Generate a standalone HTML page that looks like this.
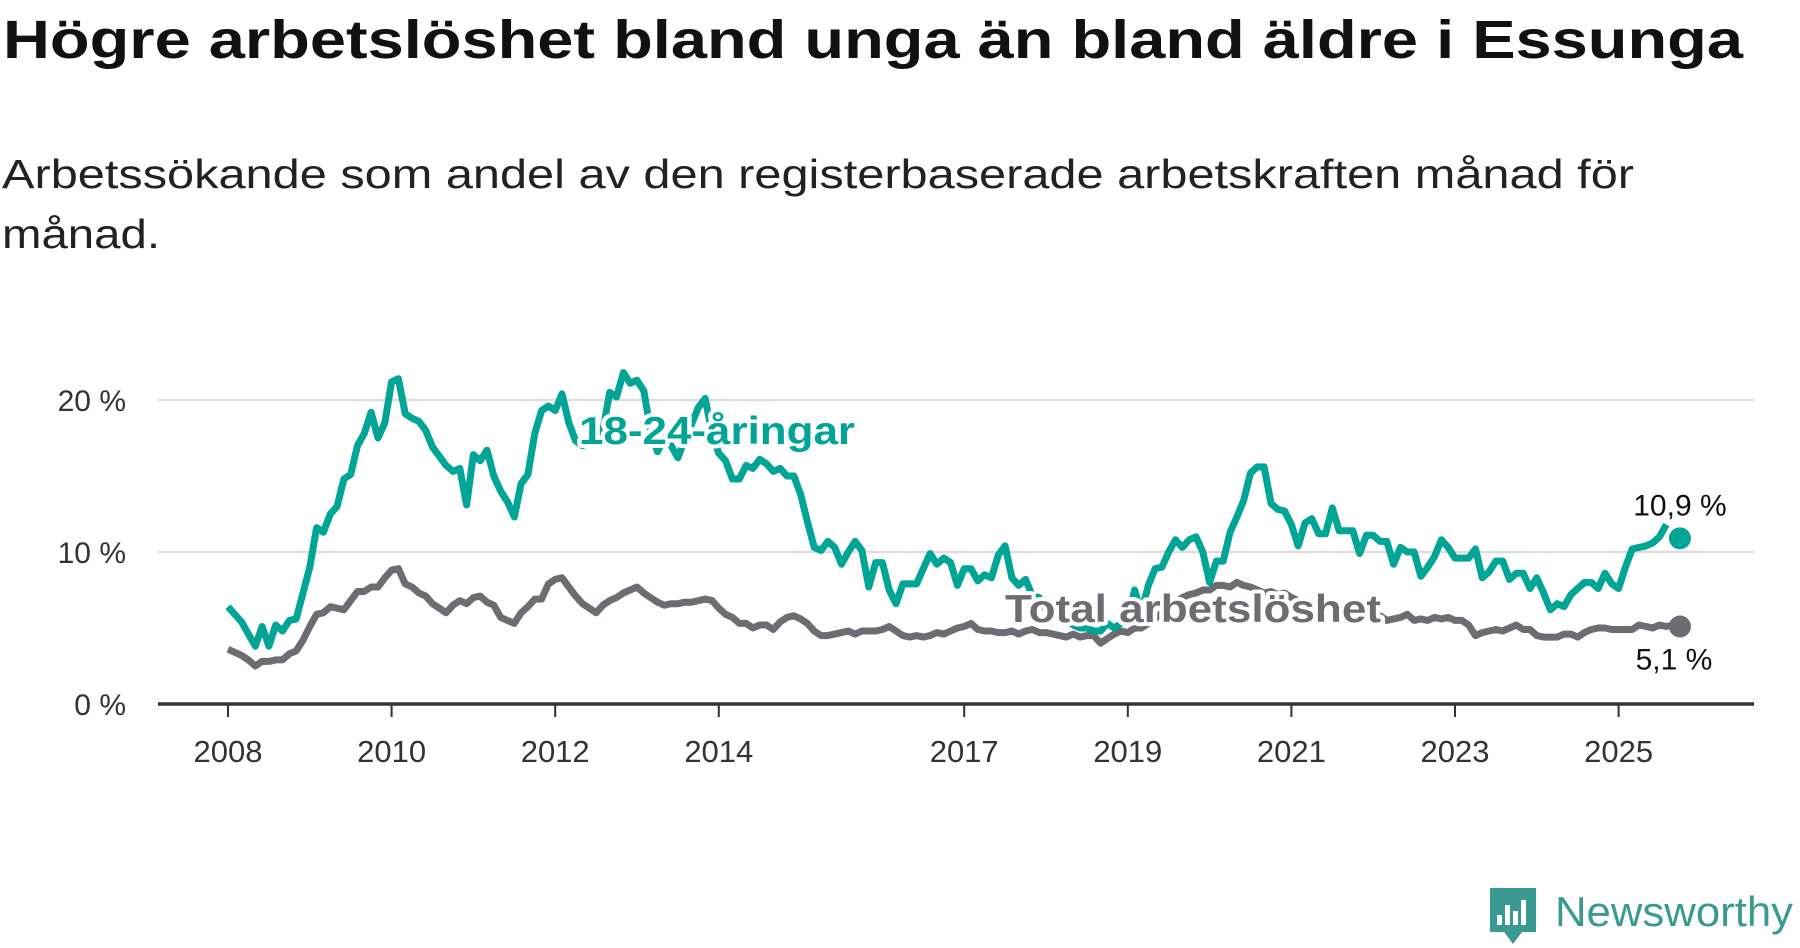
<!DOCTYPE html>
<html><head><meta charset="utf-8"><style>
html,body{margin:0;padding:0;background:#fff;}
svg{display:block;font-family:"Liberation Sans",sans-serif;}
</style></head><body>
<svg id="chart" width="1800" height="948" viewBox="0 0 1800 948" xmlns="http://www.w3.org/2000/svg">
<text x="3" y="58" font-size="54" font-weight="bold" fill="#111" textLength="1740" lengthAdjust="spacingAndGlyphs">Högre arbetslöshet bland unga än bland äldre i Essunga</text>
<text x="2" y="188" font-size="41" fill="#222" textLength="1632" lengthAdjust="spacingAndGlyphs">Arbetssökande som andel av den registerbaserade arbetskraften månad för</text>
<text x="2" y="248" font-size="41" fill="#222" textLength="158" lengthAdjust="spacingAndGlyphs">månad.</text>
<g id="grid"></g><g id="axes"></g><g id="lines"></g><g id="labels"></g>
<g>
<path d="M1490 888 h46 v44 h-14 l-9 12 l-9 -12 h-14 z" fill="#3a9a91"/>
<rect x="1497" y="915" width="5" height="10" fill="#fff"/><rect x="1505" y="905" width="5" height="20" fill="#fff"/><rect x="1513" y="911" width="5" height="14" fill="#fff"/><rect x="1521" y="900" width="5" height="25" fill="#fff"/>
<text x="1555" y="926" font-size="42" fill="#3a9a91" textLength="238" lengthAdjust="spacingAndGlyphs">Newsworthy</text>
</g>
</svg>
<script>
const yTicks=[0,10,20];
const yTickLabels=["0 %","10 %","20 %"];
const xTickYears=[2008,2010,2012,2014,2017,2019,2021,2023,2025];
const startYear=2008;
const youth=[6.4,5.9,5.4,4.6,3.8,5.1,3.8,5.2,4.8,5.5,5.6,7.3,
9.0,11.6,11.3,12.5,13.0,14.8,15.1,17.0,17.8,19.2,17.5,18.5,
21.2,21.4,19.1,18.8,18.6,18.0,16.9,16.3,15.7,15.3,15.5,13.1,
16.4,16.0,16.7,15.0,14.0,13.3,12.3,14.5,15.1,17.8,19.3,19.6,
19.3,20.4,18.5,17.3,17.0,17.2,17.5,18.0,20.5,20.2,21.8,21.1,
21.3,20.6,18.0,16.6,17.5,17.0,16.2,17.4,18.4,19.5,20.1,17.8,
16.5,16.0,14.8,14.8,15.7,15.5,16.1,15.8,15.3,15.5,15.0,15.0,
13.8,12.0,10.3,10.1,10.7,10.3,9.2,10.0,10.7,10.1,7.7,9.3,
9.3,7.5,6.6,7.9,7.9,7.9,8.9,9.9,9.2,9.6,9.3,7.8,
8.9,8.9,8.1,8.5,8.3,9.8,10.4,8.3,7.8,8.2,7.1,7.0,
6.2,6.0,5.8,5.5,5.2,5.0,5.0,4.8,4.8,5.3,5.0,5.3,
5.5,7.5,6.0,7.8,8.9,9.0,10.0,10.8,10.3,10.8,11.0,10.0,
8.0,9.4,9.4,11.3,12.3,13.4,15.2,15.6,15.6,13.2,12.8,12.7,
11.8,10.4,11.9,12.2,11.2,11.2,12.9,11.4,11.4,11.4,9.9,11.1,
11.1,10.7,10.7,9.2,10.3,10.0,10.0,8.4,9.0,9.7,10.8,10.3,
9.6,9.6,9.6,10.2,8.3,8.7,9.4,9.4,8.2,8.6,8.6,7.6,
8.3,7.3,6.2,6.6,6.4,7.2,7.6,8.0,8.0,7.6,8.6,7.9,
7.6,9.0,10.2,10.3,10.4,10.6,11.0,11.8];
const total=[3.6,3.4,3.2,2.9,2.5,2.8,2.8,2.9,2.9,3.3,3.5,4.2,
5.1,5.9,6.0,6.4,6.3,6.2,6.8,7.4,7.4,7.7,7.7,8.3,
8.8,8.9,7.9,7.7,7.3,7.1,6.6,6.3,6.0,6.5,6.8,6.6,
7.0,7.1,6.7,6.5,5.7,5.5,5.3,6.0,6.4,6.9,6.9,7.9,
8.2,8.3,7.7,7.1,6.6,6.3,6.0,6.5,6.8,7.0,7.3,7.5,
7.7,7.3,7.0,6.7,6.5,6.6,6.6,6.7,6.7,6.8,6.9,6.8,
6.3,5.9,5.7,5.3,5.3,5.0,5.2,5.2,4.9,5.4,5.7,5.8,
5.6,5.3,4.8,4.5,4.5,4.6,4.7,4.8,4.6,4.8,4.8,4.8,
4.9,5.1,4.8,4.5,4.4,4.5,4.4,4.5,4.7,4.6,4.8,5.0,
5.1,5.3,4.9,4.8,4.8,4.7,4.7,4.8,4.6,4.8,4.9,4.7,
4.7,4.6,4.5,4.4,4.6,4.4,4.5,4.5,4.0,4.3,4.6,4.8,
4.7,5.0,5.0,5.3,5.6,6.0,6.3,6.7,7.0,7.2,7.3,7.5,
7.5,7.8,7.8,7.7,8.0,7.8,7.7,7.5,7.3,7.4,7.2,7.3,
7.0,6.8,6.5,6.5,6.3,6.5,6.3,6.0,6.2,6.1,5.9,6.1,
6.0,5.8,5.5,5.6,5.7,5.9,5.5,5.6,5.5,5.7,5.6,5.7,
5.5,5.5,5.2,4.5,4.7,4.8,4.9,4.8,5.0,5.2,4.9,4.9,
4.5,4.4,4.4,4.4,4.6,4.6,4.4,4.7,4.9,5.0,5.0,4.9,
4.9,4.9,4.9,5.2,5.1,5.0,5.2,5.1,5.2];
const lastYouth=10.9, lastTotal=5.1, lastIndex=213;
const lastYouthLabel="10,9 %", lastTotalLabel="5,1 %";

const NS="http://www.w3.org/2000/svg";
function X(monthIndex){return 228+monthIndex*81.8/12;}
function XY(year){return X((year-startYear)*12);}
function Y(v){return 704-v*15.2;}
function mk(tag,attrs,parent){const e=document.createElementNS(NS,tag);for(const k in attrs)e.setAttribute(k,attrs[k]);parent.appendChild(e);return e;}
const grid=document.getElementById('grid'),axes=document.getElementById('axes'),lines=document.getElementById('lines'),labels=document.getElementById('labels');
yTicks.forEach((t,i)=>{
  if(t>0){const g=mk('line',{x1:158,x2:1754,y1:Y(t),y2:Y(t),stroke:'#dddddd','stroke-width':2.5},grid);
  
  }
  const tx=mk('text',{x:126,y:Y(t)+11,'text-anchor':'end','font-size':30,fill:'#333'},axes);
  tx.textContent=yTickLabels[i];
  
  
});
const ax=mk('line',{x1:158,x2:1754,y1:Y(0),y2:Y(0),stroke:'#333','stroke-width':3.5},axes);


xTickYears.forEach(yr=>{
  const x=XY(yr);
  const tk=mk('line',{x1:x,x2:x,y1:Y(0),y2:Y(0)+13,stroke:'#333','stroke-width':2},axes);
  
  
  const t=mk('text',{x:x,y:762,'text-anchor':'middle','font-size':31,fill:'#333'},axes);
  t.textContent=yr;
  
  
});
function path(arr){return arr.map((v,i)=>(i?'L':'M')+X(i).toFixed(1)+' '+Y(v).toFixed(1)).join(' ');}
const pt=mk('path',{d:path(total),fill:'none',stroke:'#6d6c72','stroke-width':7,'stroke-linejoin':'round'},lines);


const py=mk('path',{d:path(youth),fill:'none',stroke:'#00a596','stroke-width':7,'stroke-linejoin':'round'},lines);


const d1=mk('circle',{cx:X(lastIndex),cy:Y(lastYouth),r:11,fill:'#00a596'},lines);


const d2=mk('circle',{cx:X(lastIndex),cy:Y(lastTotal),r:11,fill:'#6d6c72'},lines);


const l1=mk('text',{x:X(lastIndex),y:Y(lastYouth)-23,'text-anchor':'middle','font-size':30,fill:'#111'},labels);
l1.textContent=lastYouthLabel;


const l2=mk('text',{x:X(lastIndex)-6,y:Y(lastTotal)+43,'text-anchor':'middle','font-size':30,fill:'#111'},labels);
l2.textContent=lastTotalLabel;


const s1=mk('text',{x:579,y:444,'font-size':39,'font-weight':'bold',fill:'#00a596',stroke:'#fff','stroke-width':8,'paint-order':'stroke','stroke-linejoin':'round',textLength:276,lengthAdjust:'spacingAndGlyphs'},labels);
s1.textContent='18-24-åringar';


const s2=mk('text',{x:1005,y:622,'font-size':39,'font-weight':'bold',fill:'#6d6c72',stroke:'#fff','stroke-width':8,'paint-order':'stroke','stroke-linejoin':'round',textLength:376,lengthAdjust:'spacingAndGlyphs'},labels);
s2.textContent='Total arbetslöshet';


</script>
</body></html>
